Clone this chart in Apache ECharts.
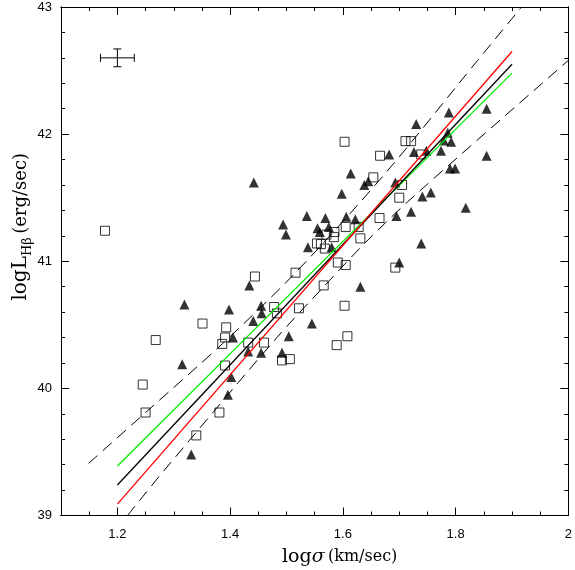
<!DOCTYPE html>
<html>
<head>
<meta charset="utf-8">
<script src="https://cdn.jsdelivr.net/npm/echarts@6/dist/echarts.min.js"></script>
<style>
  html, body { margin: 0; padding: 0; background: #fff; }
  #chart { width: 575px; height: 570px; }
</style>
</head>
<body>
<div id="chart"></div>
<script>
// tick positions
const xMajorTicks = [1.2, 1.4, 1.6, 1.8, 2.0]
const xMinorTicks = [1.1, 1.15, 1.2, 1.25, 1.3, 1.35, 1.4, 1.45, 1.5, 1.55, 1.6, 1.65, 1.7, 1.75, 1.8, 1.85, 1.9, 1.95, 2.0]
const yMajorTicks = [39, 40, 41, 42, 43]
const yMinorTicks = [39, 39.2, 39.4, 39.6, 39.8, 40, 40.2, 40.4, 40.6, 40.8, 41, 41.2, 41.4, 41.6, 41.8, 42, 42.2, 42.4, 42.6, 42.8, 43]

// open squares  [log sigma, log L(Hb)]
const squarePts = [
  [1.178, 41.24], [1.245, 40.03], [1.250, 39.81], [1.268, 40.38], [1.340, 39.63],
  [1.351, 40.51], [1.381, 39.81], [1.386, 40.35], [1.391, 40.40], [1.393, 40.48],
  [1.391, 40.18], [1.432, 40.36], [1.460, 40.36], [1.444, 40.88], [1.478, 40.64],
  [1.483, 40.59], [1.492, 40.22], [1.506, 40.23], [1.516, 40.91], [1.522, 40.63],
  [1.554, 41.14], [1.561, 41.135], [1.568, 41.10], [1.584, 41.19], [1.585, 41.23],
  [1.571, 41.21], [1.605, 41.27], [1.628, 41.27], [1.631, 41.18], [1.591, 40.99],
  [1.605, 40.97], [1.566, 40.81], [1.603, 40.65], [1.608, 40.41], [1.589, 40.34],
  [1.603, 41.94], [1.654, 41.66], [1.666, 41.83], [1.665, 41.34], [1.700, 41.50],
  [1.705, 41.60], [1.711, 41.945], [1.721, 41.945], [1.739, 41.84], [1.693, 40.95]
]

// filled triangles
const trianglePts = [
  [1.319, 40.66], [1.315, 40.19], [1.331, 39.48], [1.398, 40.62], [1.396, 39.95],
  [1.402, 40.09], [1.405, 40.40], [1.434, 40.81], [1.441, 40.53], [1.455, 40.65],
  [1.456, 40.59], [1.432, 40.29], [1.455, 40.28], [1.492, 40.28], [1.504, 40.41],
  [1.545, 40.51], [1.442, 41.62], [1.494, 41.29], [1.499, 41.21], [1.538, 41.11],
  [1.536, 41.355], [1.569, 41.34], [1.606, 41.35], [1.622, 41.33], [1.555, 41.26],
  [1.559, 41.23], [1.575, 41.27], [1.580, 41.11], [1.598, 41.53], [1.614, 41.69],
  [1.645, 41.63], [1.638, 41.60], [1.682, 41.84], [1.693, 41.62], [1.695, 41.355],
  [1.700, 40.99], [1.631, 40.80], [1.730, 42.08], [1.788, 42.17], [1.855, 42.20],
  [1.786, 42.01], [1.792, 41.94], [1.779, 41.95], [1.726, 41.86], [1.748, 41.87],
  [1.774, 41.87], [1.855, 41.83], [1.790, 41.73], [1.799, 41.73], [1.741, 41.51],
  [1.756, 41.54], [1.721, 41.39], [1.818, 41.42], [1.739, 41.14]
]

// fit lines
const redFit = [[1.2, 39.09], [1.9, 42.65]]
const blackFit = [[1.2, 39.24], [1.9, 42.55]]
const greenFit = [[1.2, 39.39], [1.9, 42.48]]

// dashed bands
const upperBand = [[1.149, 39.41], [1.250, 39.81], [1.386, 40.35], [1.516, 40.91], [1.675, 41.69], [1.839, 42.58], [1.917, 43.0]]
const lowerBand = [[1.218, 39.0], [1.284, 39.36], [1.483, 40.40], [1.566, 40.80], [1.645, 41.17], [1.728, 41.52], [2.0, 42.58]]

// typical error bar
const errCenter = [[1.2, 42.6]]
const errHalf = [0.03, 0.07]

const tickFont = { fontFamily: 'Liberation Sans', fontSize: 13, color: '#000' }
const titleFont = 'DejaVu Serif'

function xAx(pos, ticks, len, labels) {
  return {
    type: 'value', position: pos, min: 1.1, max: 2.0,
    axisLine: { show: true, onZero: false, lineStyle: { color: '#000', width: 1 } },
    axisTick: { show: true, inside: true, length: len, customValues: ticks, lineStyle: { color: '#000', width: 1 } },
    axisLabel: Object.assign({ show: labels, margin: 12, customValues: xMajorTicks }, tickFont),
    splitLine: { show: false }
  }
}
function yAx(pos, ticks, len, labels) {
  return {
    type: 'value', position: pos, min: 39, max: 43,
    axisLine: { show: true, onZero: false, lineStyle: { color: '#000', width: 1 } },
    axisTick: { show: true, inside: true, length: len, customValues: ticks, lineStyle: { color: '#000', width: 1 } },
    axisLabel: Object.assign({ show: labels, margin: 9, customValues: yMajorTicks }, tickFont),
    splitLine: { show: false }
  }
}

const chart = echarts.init(document.getElementById('chart'), null, { renderer: 'canvas' })

const options = {
  animation: false,
  backgroundColor: '#fff',
  grid: { left: 61, top: 7, width: 510, height: 508.5 },
  xAxis: [
    xAx('bottom', xMajorTicks, 8, true),
    xAx('bottom', xMinorTicks, 4, false),
    xAx('top', xMajorTicks, 8, false),
    xAx('top', xMinorTicks, 4, false)
  ],
  yAxis: [
    yAx('left', yMajorTicks, 8, true),
    yAx('left', yMinorTicks, 4, false),
    yAx('right', yMajorTicks, 8, false),
    yAx('right', yMinorTicks, 4, false)
  ],
  graphic: [
    {
      type: 'text', x: 282, y: 557,
      style: {
        text: '{a|log}{g|σ} {c|(km/sec)}',
        align: 'left', verticalAlign: 'middle',
        rich: {
          a: { fontFamily: titleFont, fontSize: 19, fill: '#000' },
          g: { fontFamily: titleFont, fontStyle: 'italic', fontSize: 19, fill: '#000' },
          c: { fontFamily: titleFont, fontSize: 16, fill: '#000' }
        }
      }
    },
    {
      type: 'text', x: 21, y: 153, rotation: Math.PI / 2,
      style: {
        text: '{a|logL}{s|Hβ} {c|(erg/sec)}',
        align: 'right', verticalAlign: 'middle',
        rich: {
          a: { fontFamily: titleFont, fontSize: 20, fill: '#000', lineHeight: 27 },
          s: { fontFamily: titleFont, fontSize: 13, fill: '#000', lineHeight: 27, verticalAlign: 'bottom' },
          c: { fontFamily: titleFont, fontSize: 18, fill: '#000', lineHeight: 27 }
        }
      }
    }
  ],
  series: [
    {
      name: 'squares', type: 'scatter', data: squarePts,
      symbol: 'rect', symbolSize: 9,
      itemStyle: { color: 'rgba(0,0,0,0)', borderColor: '#000', borderWidth: 1 }
    },
    {
      name: 'triangles', type: 'scatter', data: trianglePts,
      symbol: 'triangle', symbolSize: 10,
      itemStyle: { color: '#000' }
    },
    {
      name: 'upper', type: 'line', data: upperBand, smooth: 0.3, showSymbol: false,
      lineStyle: { color: '#000', width: 1, type: [12, 7] }
    },
    {
      name: 'lower', type: 'line', data: lowerBand, smooth: 0.3, showSymbol: false,
      lineStyle: { color: '#000', width: 1, type: [12, 7] }
    },
    {
      name: 'green', type: 'line', data: greenFit, showSymbol: false,
      lineStyle: { color: '#00ee00', width: 1.3 }
    },
    {
      name: 'black', type: 'line', data: blackFit, showSymbol: false,
      lineStyle: { color: '#000', width: 1.3 }
    },
    {
      name: 'red', type: 'line', data: redFit, showSymbol: false,
      lineStyle: { color: '#ff0000', width: 1.3 }
    },
    {
      name: 'errbar', type: 'custom', data: errCenter,
      renderItem: function (params, api) {
        const cx = api.value(0)
        const cy = api.value(1)
        const l = api.coord([cx - errHalf[0], cy])
        const r = api.coord([cx + errHalf[0], cy])
        const t = api.coord([cx, cy + errHalf[1]])
        const b = api.coord([cx, cy - errHalf[1]])
        const cap = 4
        const st = { stroke: '#000', lineWidth: 1 }
        return {
          type: 'group',
          children: [
            { type: 'line', shape: { x1: l[0], y1: l[1], x2: r[0], y2: r[1] }, style: st },
            { type: 'line', shape: { x1: t[0], y1: t[1], x2: b[0], y2: b[1] }, style: st },
            { type: 'line', shape: { x1: l[0], y1: l[1] - cap, x2: l[0], y2: l[1] + cap }, style: st },
            { type: 'line', shape: { x1: r[0], y1: r[1] - cap, x2: r[0], y2: r[1] + cap }, style: st },
            { type: 'line', shape: { x1: t[0] - cap, y1: t[1], x2: t[0] + cap, y2: t[1] }, style: st },
            { type: 'line', shape: { x1: b[0] - cap, y1: b[1], x2: b[0] + cap, y2: b[1] }, style: st }
          ]
        }
      }
    }
  ]
}

chart.setOption(options)
window.addEventListener('resize', function () {
  chart.resize()
})
</script>
</body>
</html>
